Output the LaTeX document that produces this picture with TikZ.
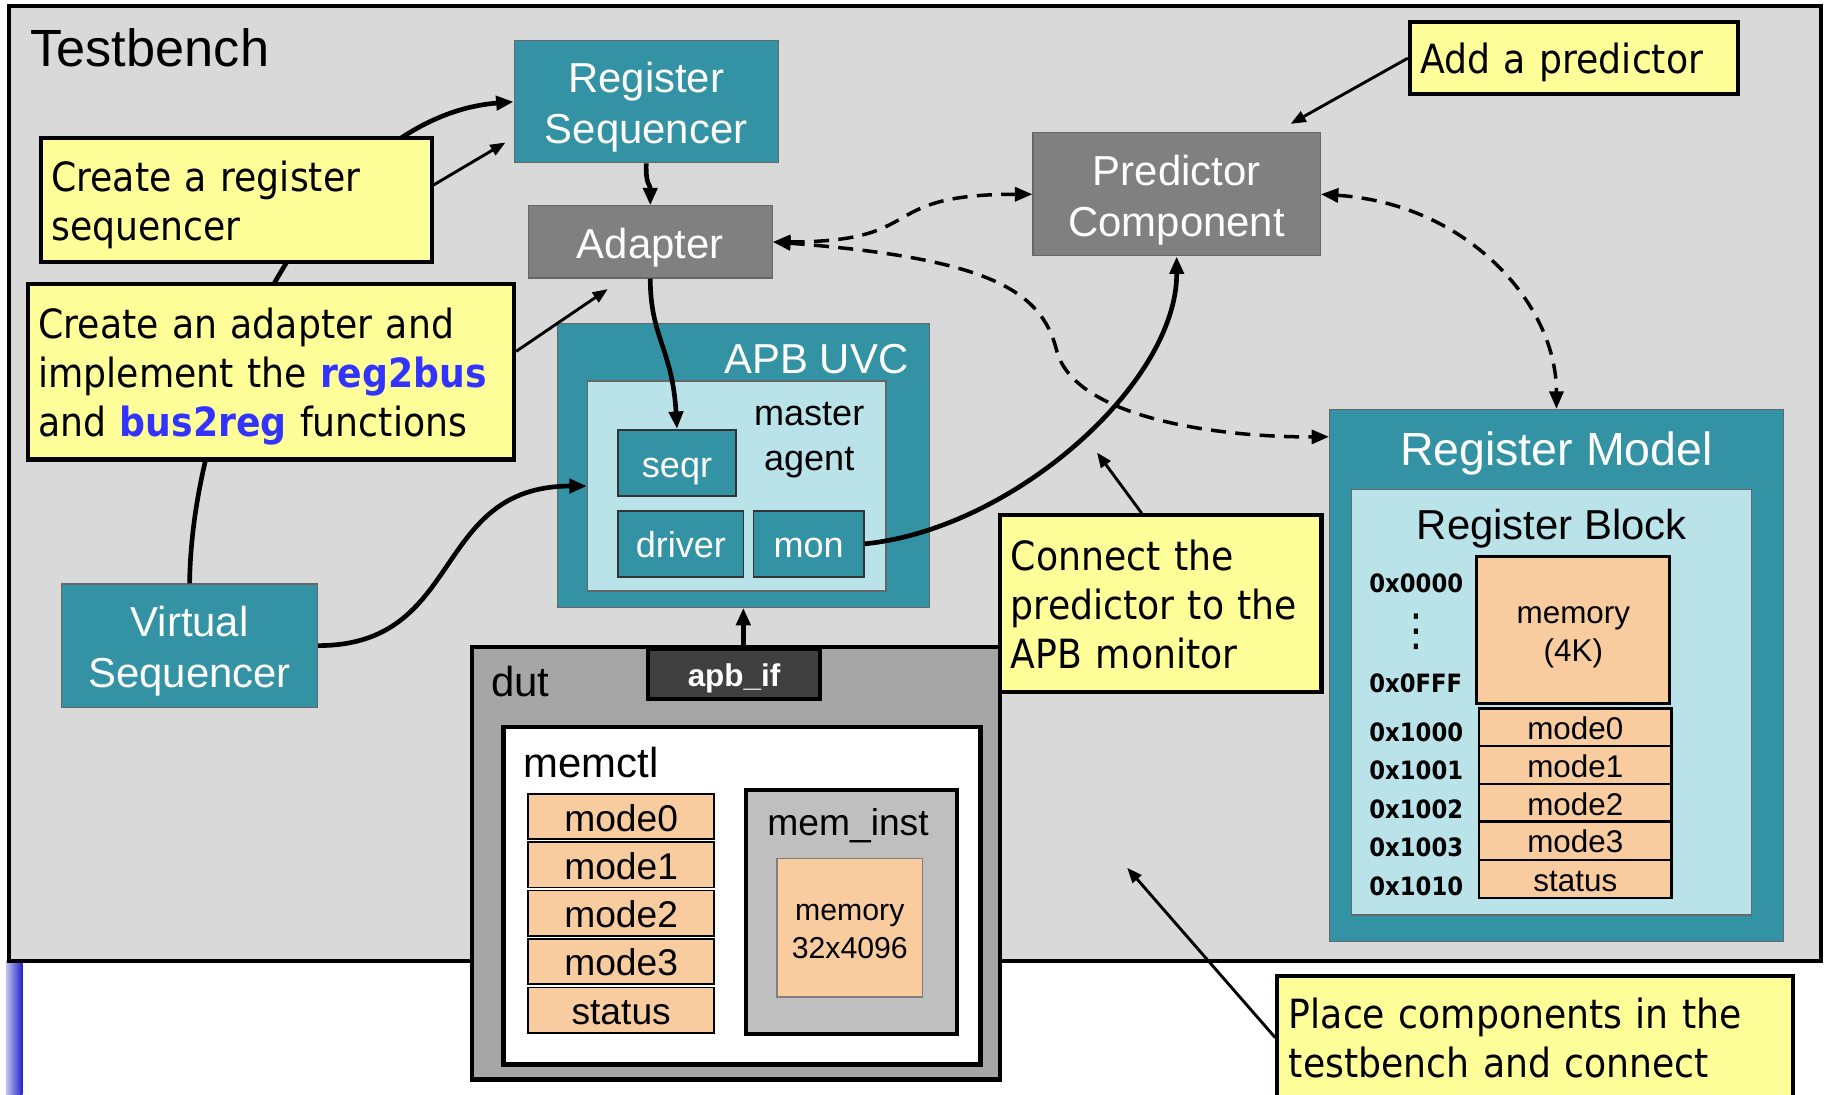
\documentclass[tikz,border=0pt]{standalone}
\usepackage{fontspec}
\setmainfont{Liberation Sans}
\newfontfamily\notefont[FakeStretch=0.9]{DejaVu Sans}
\usetikzlibrary{arrows.meta,calc}
\definecolor{uvcteal}{RGB}{51,146,164}
\definecolor{agentblue}{RGB}{186,227,233}
\definecolor{tbgray}{RGB}{217,217,217}
\definecolor{dutgray}{RGB}{166,166,166}
\definecolor{instgray}{RGB}{191,191,191}
\definecolor{ifgray}{RGB}{64,64,64}
\definecolor{compgray}{RGB}{128,128,128}
\definecolor{peach}{RGB}{249,204,160}
\definecolor{noteyellow}{RGB}{255,255,153}
\definecolor{funcblue}{RGB}{51,51,255}
\definecolor{barlight}{RGB}{196,196,238}
\definecolor{bardark}{RGB}{32,32,205}
\newcommand{\ls}{\rule[-.22em]{0pt}{1.22em}}
\newcommand{\ns}{\rule[-7.6pt]{0pt}{42.2pt}}

\begin{document}
\begin{tikzpicture}[x=1pt,y=-1pt,>={Triangle[length=15pt,width=12pt]},
                    line join=miter]
\tikzstyle{comp}=[draw=black!60,line width=1pt,fill=uvcteal,text=white,inner sep=0pt,
                  align=center,font=\fontsize{36}{44}\selectfont]
\tikzstyle{small}=[font=\fontsize{31}{37.8}\selectfont]
\tikzstyle{reg}=[draw,line width=1.5pt,fill=peach,inner sep=0pt,align=center]
\tikzstyle{addr}=[anchor=base west,inner sep=0pt,font=\notefont\bfseries\fontsize{21.7}{26}\selectfont]
\tikzstyle{note}=[draw,line width=3.5pt,fill=noteyellow,align=left,inner xsep=9pt,inner ysep=0pt,
                  font=\notefont\fontsize{34.6}{42.2}\selectfont]
\tikzstyle{link}=[->,line width=4pt]
\tikzstyle{hint}=[-{Triangle[length=13pt,width=10pt]},line width=2.5pt]
\tikzstyle{bus}=[<->,line width=3pt,dash pattern=on 13pt off 8pt]

\useasboundingbox (0,0) rectangle (1568,941);
\fill[white] (0,0) rectangle (1568,941);
\clip (0,0) rectangle (1568,941);
\shade[left color=barlight,right color=bardark] (5,826) rectangle (19.5,941);

\node[draw,line width=3.5pt,fill=tbgray,minimum width=1557pt,minimum height=821pt] (tb) at (786.5,415.5) {};
\node[anchor=base west,inner sep=0pt,font=\fontsize{45}{54}\selectfont] (tblabel) at (26,57) {Testbench};

\node[comp,minimum width=227pt,minimum height=105pt] (regseq) at (555.5,87.5) {\ls Register\\\ls Sequencer};
\node[comp,fill=compgray,minimum width=210pt,minimum height=62pt] (adapter) at (559,208) {\ls Adapter};
\node[comp,fill=compgray,minimum width=247pt,minimum height=106pt] (predictor) at (1011.5,167) {\ls Predictor\\\ls Component};
\node[comp,minimum width=220pt,minimum height=106pt] (vseq) at (163,555) {\ls Virtual\\\ls Sequencer};

\node[comp,minimum width=320pt,minimum height=244pt] (apbuvc) at (639,400) {};
\node[anchor=base east,inner sep=0pt,text=white,font=\fontsize{36}{44}\selectfont] (uvclabel) at (781,321) {APB UVC};
\node[draw=black!60,line width=1pt,fill=agentblue,minimum width=256.6pt,minimum height=180.5pt] (agent) at (633.3,417.8) {};
\node[small,align=center,inner sep=0pt] (agentlabel) at (695.6,373) {\ls master\\\ls agent};
\node[comp,small,draw=black!80,line width=1.5pt,minimum width=101pt,minimum height=57pt] (seqr) at (582,398) {\ls seqr};
\node[comp,small,draw=black!80,line width=1.5pt,minimum width=107.5pt,minimum height=56.4pt] (driver) at (585.3,467.5) {\ls driver};
\node[comp,small,draw=black!80,line width=1.5pt,minimum width=95pt,minimum height=56.4pt] (mon) at (695.2,467.5) {\ls mon};

\node[draw,line width=3.5pt,fill=dutgray,minimum width=454pt,minimum height=372pt] (dut) at (633,742) {};
\node[anchor=base west,inner sep=0pt,font=\fontsize{36}{44}\selectfont] (dutlabel) at (422,599) {dut};
\node[draw,line width=3pt,fill=ifgray,text=white,inner sep=0pt,minimum width=148pt,minimum height=43pt,
      font=\fontsize{27}{33}\selectfont\bfseries] (apbif) at (631,579.5) {\ls apb\_if};
\node[draw,line width=4pt,fill=white,minimum width=410pt,minimum height=290pt] (memctl) at (638,770) {};
\node[anchor=base west,inner sep=0pt,font=\fontsize{36}{44}\selectfont] (memctllabel) at (450,668) {memctl};
\node[reg,font=\fontsize{32}{39}\selectfont,minimum width=160pt,minimum height=39pt] (cm0) at (534,702) {\ls mode0};
\node[reg,font=\fontsize{32}{39}\selectfont,minimum width=160pt,minimum height=39pt] (cm1) at (534,743.5) {\ls mode1};
\node[reg,font=\fontsize{32}{39}\selectfont,minimum width=160pt,minimum height=39pt] (cm2) at (534,785) {\ls mode2};
\node[reg,font=\fontsize{32}{39}\selectfont,minimum width=160pt,minimum height=39pt] (cm3) at (534,826.5) {\ls mode3};
\node[reg,font=\fontsize{32}{39}\selectfont,minimum width=160pt,minimum height=39pt] (cstat) at (534,868.5) {\ls status};
\node[draw,line width=3.5pt,fill=instgray,minimum width=182pt,minimum height=210pt] (meminst) at (732,784) {};
\node[anchor=base,inner sep=0pt,font=\fontsize{32}{39}\selectfont] (meminstlabel) at (729,718) {mem\_inst};
\node[reg,draw=black!50,line width=1pt,font=\fontsize{26}{31.7}\selectfont,minimum width=125pt,minimum height=119pt] (mem) at (730.5,797.5) {\ls memory\\\ls 32x4096};

\node[comp,minimum width=390pt,minimum height=457pt] (regmodel) at (1338,580.5) {};
\node[anchor=base,inner sep=0pt,text=white,font=\fontsize{40}{48}\selectfont] (rmlabel) at (1338,400) {Register Model};
\node[draw=black!60,line width=1pt,fill=agentblue,minimum width=344pt,minimum height=366pt] (regblock) at (1334,603.6) {};
\node[anchor=base,inner sep=0pt,font=\fontsize{36}{44}\selectfont] (rblabel) at (1334,464) {Register Block};
\node[reg,line width=2.5pt,font=\fontsize{27}{33}\selectfont,minimum width=166pt,minimum height=126pt] (mem4k) at (1352.5,541.6) {\ls memory\\\ls (4K)};
\node[reg,line width=2pt,font=\fontsize{27}{33}\selectfont,minimum width=165.6pt,minimum height=32.4pt] (rm0) at (1354.2,625.5) {\ls mode0};
\node[reg,line width=2pt,font=\fontsize{27}{33}\selectfont,minimum width=165.6pt,minimum height=32.4pt] (rm1) at (1354.2,657.9) {\ls mode1};
\node[reg,line width=2pt,font=\fontsize{27}{33}\selectfont,minimum width=165.6pt,minimum height=32.4pt] (rm2) at (1354.2,690.3) {\ls mode2};
\node[reg,line width=2pt,font=\fontsize{27}{33}\selectfont,minimum width=165.6pt,minimum height=32.4pt] (rm3) at (1354.2,722.7) {\ls mode3};
\node[reg,line width=2pt,font=\fontsize{27}{33}\selectfont,minimum width=165.6pt,minimum height=32.4pt] (rstat) at (1354.2,755.6) {\ls status};
\node[addr] (a0) at (1177,509.5) {0x0000};
\node[inner sep=0pt,font=\notefont\fontsize{38}{40}\selectfont] (adots) at (1217.8,543) {⋮};
\node[addr] (a1) at (1177,595) {0x0FFF};
\node[addr] (a2) at (1177,637) {0x1000};
\node[addr] (a3) at (1177,669.7) {0x1001};
\node[addr] (a4) at (1177,703.5) {0x1002};
\node[addr] (a5) at (1177,736.4) {0x1003};
\node[addr] (a6) at (1177,770.2) {0x1010};

\draw[link] (vseq.north) .. controls (165,330) and (280,100) .. (regseq.west);

\node[note,text width=264pt,minimum height=62pt] (cpred) at (1353,50) {\ns Add a predictor};
\node[note,text width=318pt,minimum height=106pt] (cregseq) at (203,172) {\ns Create a register\\\ns sequencer};
\node[note,text width=400pt,minimum height=151pt] (cadapt) at (233,319.5)
  {\ns Create an adapter and\\\ns implement the \textcolor{funcblue}{\bfseries reg2bus}\\\ns and \textcolor{funcblue}{\bfseries bus2reg} functions};
\node[note,text width=258pt,minimum height=152pt] (cconn) at (998,519) {\ns Connect the\\\ns predictor to the\\\ns APB monitor};
\node[note,text width=423pt,inner xsep=10pt,minimum height=106pt] (cplace) at (1319.5,892) {\ns Place components in the\\\ns testbench and connect};

\draw[link] (regseq.south) .. controls (555,160) and (559,158) .. (adapter.north);
\draw[link] (adapter.south) .. controls (559,290) and (578,300) .. (seqr.north);
\draw[link] (vseq.east) .. controls (400,555) and (370,418) .. (agent.west);
\draw[link] (mon.east) .. controls (870,455) and (1012,330) .. (predictor.south);
\draw[link] (apbuvc.south |- apbif.north) -- (apbuvc.south);
\draw[bus] (adapter.east) .. controls (800,208) and (750,167) .. (predictor.west);
\draw[bus] (adapter.east) .. controls (850,222) and (895,250) .. (908,300)
           .. controls (922,360) and (1050,376) .. ($(regmodel.north west)+(0,24)$);
\draw[bus] (predictor.east) .. controls (1260,175) and (1338,260) .. (regmodel.north);

\coordinate (connpt) at (943,389);
\coordinate (tbpt) at (969,746);
\draw[hint] ($(cregseq.east)+(0,-13)$) -- ($(regseq.south west)+(-7,-18)$);
\draw[hint] ($(cadapt.east)+(0,-17.5)$) -- ($(adapter.south)+(-36.5,9)$);
\draw[hint] (cpred.west) -- ($(predictor.north east)+(-26,-7)$);
\draw[hint] ($(cconn.north)+(-16.5,0)$) -- (connpt);
\draw[hint] (cplace.west) -- (tbpt);
\end{tikzpicture}
\end{document}
